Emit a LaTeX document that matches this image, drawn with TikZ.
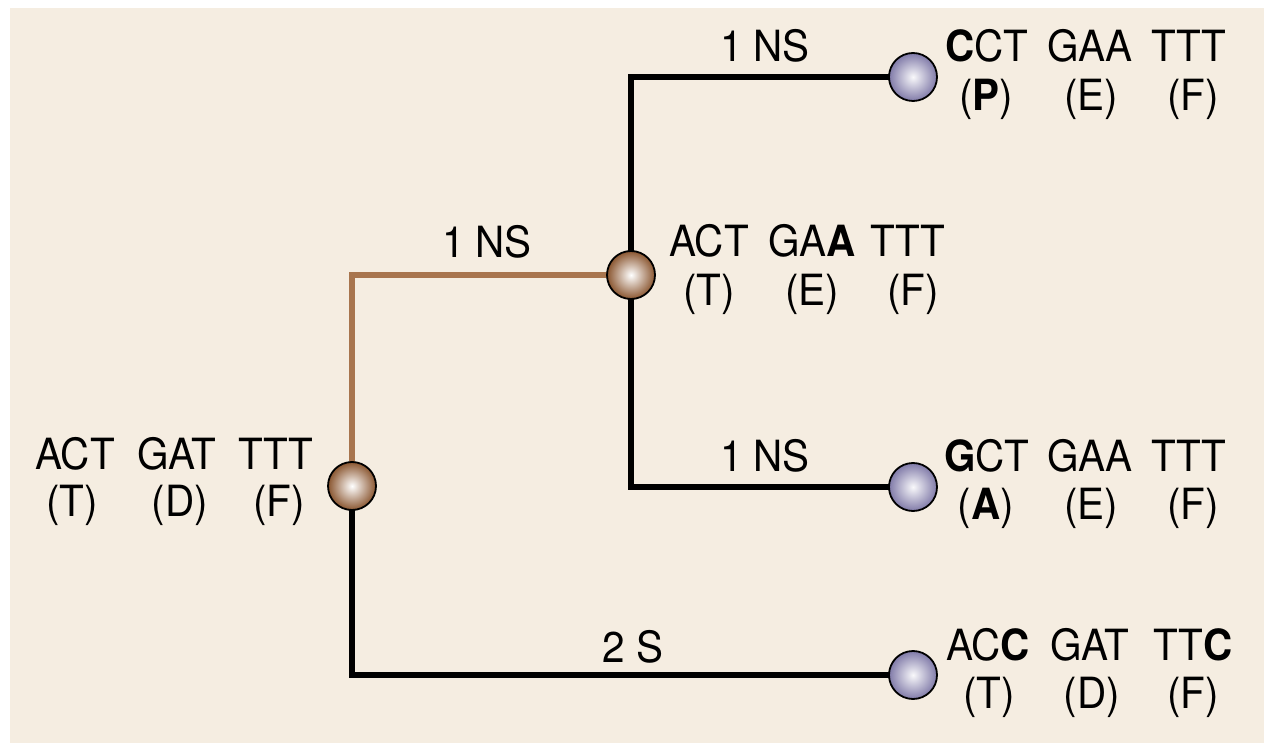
\documentclass[tikz,border=0pt]{standalone}
\usepackage{fontspec}
\setmainfont[FakeStretch=0.94]{TeX Gyre Heros}
\usetikzlibrary{backgrounds}
\definecolor{bgcol}{RGB}{245,237,225}
\definecolor{brownline}{RGB}{168,117,78}
\definecolor{brownball}{RGB}{138,86,48}
\definecolor{purpleball}{RGB}{128,122,168}
\begin{document}
\begin{tikzpicture}[x=1pt,y=-1pt,
  ball/.style={circle, draw=black, line width=1.8pt, minimum size=48pt, inner sep=0pt, shading=radial},
  bball/.style={ball, inner color=white, outer color=brownball},
  pball/.style={ball, inner color=white!95!purpleball, outer color=purpleball},
  txt/.style={font=\fontsize{43}{49}\selectfont, anchor=base, inner sep=0pt},
  blackedge/.style={draw=black, line width=6pt},
  brownedge/.style={draw=brownline, line width=6pt}]
\useasboundingbox (0,0) rectangle (1264,743);
% nodes (balls)
\node[bball] (root) at (352,486) {};
\node[bball] (mid) at (631,275) {};
\node[pball] (leafA) at (913,77) {};
\node[pball] (leafB) at (913,487) {};
\node[pball] (leafC) at (913,675) {};
% connectors
\begin{scope}[on background layer]
\fill[bgcol] (10,8) rectangle (1264,743);
\draw[brownedge] (root.center) |- (mid.center);
\draw[blackedge] (root.center) |- (leafC.center);
\draw[blackedge] (mid.center) |- (leafA.center);
\draw[blackedge] (mid.center) |- (leafB.center);
\end{scope}
% branch labels
\node[txt] (lA) at (765,62) {1 NS};
\node[txt] (lM) at (487,258) {1 NS};
\node[txt] (lB) at (765,471) {1 NS};
\node[txt] (lC) at (633,662) {2 S};
% root sequence
\node[txt] (r1) at (75,469) {ACT};
\node[txt] (r2) at (177,469) {GAT};
\node[txt] (r3) at (276,469) {TTT};
\node[txt] (r4) at (72,516) {(T)};
\node[txt] (r5) at (180,516) {(D)};
\node[txt] (r6) at (279,516) {(F)};
% middle sequence
\node[txt] (m1) at (709,257) {ACT};
\node[txt] (m2) at (812,257) {GA\textbf{A}};
\node[txt] (m3) at (908,257) {TTT};
\node[txt] (m4) at (709,306) {(T)};
\node[txt] (m5) at (812,306) {(E)};
\node[txt] (m6) at (913,306) {(F)};
% leaf A
\node[txt] (a1) at (987,62) {\textbf{C}CT};
\node[txt] (a2) at (1090,62) {GAA};
\node[txt] (a3) at (1189,62) {TTT};
\node[txt] (a4) at (986,111) {(\textbf{P})};
\node[txt] (a5) at (1091,111) {(E)};
\node[txt] (a6) at (1193,111) {(F)};
% leaf B
\node[txt] (b1) at (987,471) {\textbf{G}CT};
\node[txt] (b2) at (1090,471) {GAA};
\node[txt] (b3) at (1189,471) {TTT};
\node[txt] (b4) at (986,519) {(\textbf{A})};
\node[txt] (b5) at (1091,519) {(E)};
\node[txt] (b6) at (1193,519) {(F)};
% leaf C
\node[txt] (c1) at (988,660) {AC\textbf{C}};
\node[txt] (c2) at (1090,660) {GAT};
\node[txt] (c3) at (1193,660) {TT\textbf{C}};
\node[txt] (c4) at (989,708) {(T)};
\node[txt] (c5) at (1092,708) {(D)};
\node[txt] (c6) at (1193,708) {(F)};
\end{tikzpicture}
\end{document}
